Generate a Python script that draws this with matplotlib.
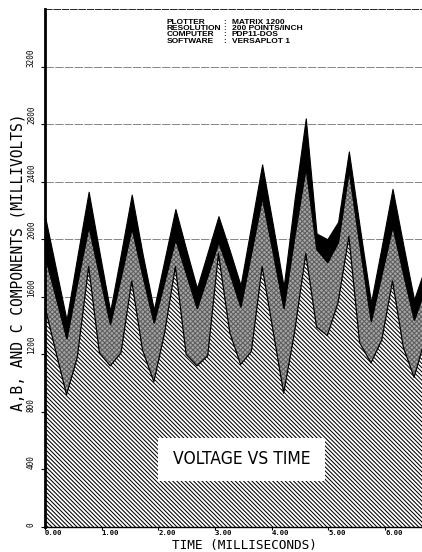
import matplotlib.pyplot as plt
import numpy as np
from matplotlib.patches import Rectangle

# sample times (ms) and the three stacked components (mV)
time_ms = [0.00, 0.19, 0.38, 0.57, 0.77, 0.96, 1.15, 1.34, 1.53, 1.72,
           1.92, 2.11, 2.30, 2.49, 2.68, 2.87, 3.06, 3.26, 3.45, 3.64,
           3.83, 4.02, 4.21, 4.40, 4.60, 4.79, 4.98, 5.17, 5.36, 5.55,
           5.75, 5.94, 6.13, 6.32, 6.51, 6.70]
comp_c = [1530, 1220, 920, 1180, 1810, 1210, 1120, 1210, 1710, 1230,
          1010, 1350, 1810, 1200, 1120, 1190, 1900, 1350, 1130, 1220,
          1810, 1370, 930, 1350, 1900, 1390, 1330, 1560, 2020, 1280,
          1140, 1300, 1710, 1250, 1040, 1300]
comp_b = [350, 380, 390, 520, 280, 540, 290, 530, 370, 520,
          410, 360, 190, 560, 400, 560, 80, 410, 400, 690,
          480, 540, 590, 670, 600, 540, 510, 420, 460, 680,
          290, 460, 380, 510, 400, 350]
comp_a = [280, 200, 130, 180, 240, 160, 90, 160, 230, 150,
          90, 150, 210, 170, 140, 160, 180, 160, 150, 190,
          230, 190, 150, 250, 340, 110, 160, 140, 130, 130,
          130, 190, 260, 200, 140, 150]

y_ticks = [0, 400, 800, 1200, 1600, 2000, 2400, 2800, 3200]
x_ticks = [0, 1, 2, 3, 4, 5, 6]
x_tick_labels = ["0.00", "1.00", "2.00", "3.00", "4.00", "5.00", "6.00"]

info_keys = ["PLOTTER", "RESOLUTION", "COMPUTER", "SOFTWARE"]
info_values = ["MATRIX 1200", "200 POINTS/INCH", "PDP11-DOS", "VERSAPLOT 1"]
info_rows = [3508, 3464, 3420, 3376]

plt.rcParams['font.family'] = ['DejaVu Sans Mono']
plt.rcParams['hatch.linewidth'] = 0.75

fig = plt.figure(figsize=(4.22, 5.52), dpi=100)
ax = fig.add_axes([45 / 422, 25 / 552, 377 / 422, 518 / 552])

t = np.array(time_ms)
c_top = np.array(comp_c)
b_top = c_top + np.array(comp_b)
a_top = b_top + np.array(comp_a)

ax.fill_between(t, 0, c_top, facecolor='white', edgecolor='black',
                hatch='\\' * 8, linewidth=0, zorder=2)
ax.fill_between(t, c_top, b_top, facecolor='#a6a6a6', edgecolor='#5e5e5e',
                hatch='xxxxxxx', linewidth=0, zorder=2)
ax.fill_between(t, b_top, a_top, facecolor='black', edgecolor='black',
                linewidth=0.8, zorder=2)
ax.plot(t, c_top, color='black', lw=0.9, zorder=3)
ax.plot(t, b_top, color='black', lw=0.6, zorder=3)

ax.set_xlim(0, 6.65)
ax.set_ylim(0, 3600)

ax.set_yticks(y_ticks)
ax.set_yticklabels([str(v) for v in y_ticks], rotation=90, va='bottom',
                   fontsize=5.5)
ax.set_xticks(x_ticks)
ax.set_xticklabels(x_tick_labels, ha='left', fontsize=5.2, fontweight='bold')
ax.tick_params(axis='y', direction='out', length=3, width=0.8, pad=3.5)
ax.tick_params(axis='x', direction='out', length=2.5, width=0.8, pad=0)

ax.yaxis.grid(True, linestyle=(0, (12, 2)), color='#555555', lw=0.5)
ax.set_axisbelow(True)

ax.spines['right'].set_visible(False)
ax.spines['left'].set_linewidth(2.0)
ax.spines['bottom'].set_linewidth(1.0)
ax.spines['top'].set_linewidth(0.6)
ax.spines['top'].set_linestyle((0, (8, 2)))

ax.set_xlabel('TIME (MILLISECONDS)', fontsize=9.2)
ax.xaxis.set_label_coords(199 / 377, -22.5 / 518)
ax.xaxis.label.set_va('baseline')
ax.set_ylabel('A,B, AND C COMPONENTS (MILLIVOLTS)', fontsize=10.5)
ax.yaxis.set_label_coords(-27 / 377, 265 / 518)
ax.yaxis.label.set_va('center')

# title box
ax.add_patch(Rectangle((2.0, 320), 2.94, 300, facecolor='white',
                       edgecolor='none', zorder=4))
ax.text(3.47, 470, 'VOLTAGE VS TIME', ha='center', va='center', fontsize=12.5,
        family='DejaVu Sans', fontstretch='condensed', zorder=5)

# plotter info block
info_font = dict(fontsize=6, fontweight='bold',
                 family=['Liberation Sans', 'DejaVu Sans'], zorder=5)
for key, val, yv in zip(info_keys, info_values, info_rows):
    ax.text(2.15, yv, key, ha='left', va='center', **info_font)
    ax.text(3.16, yv, ':', ha='center', va='center', **info_font)
    ax.text(3.29, yv, val, ha='left', va='center', **info_font)

fig.savefig('out.png', dpi=100)
